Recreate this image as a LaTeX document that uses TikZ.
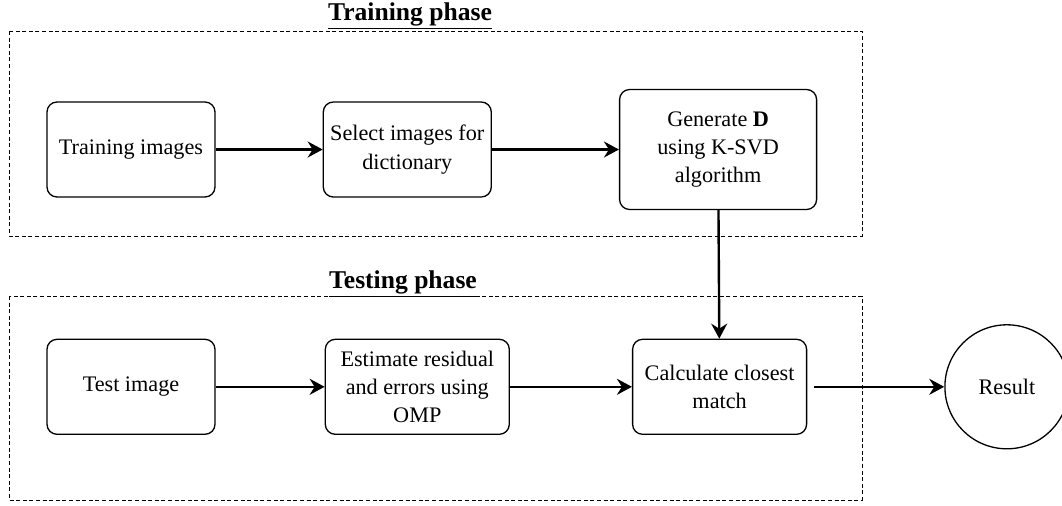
\documentclass[tikz,border=0pt]{standalone}
\usepackage{fontspec}
\setmainfont{Liberation Serif}
\usetikzlibrary{positioning,arrows.meta}

\begin{document}
\begin{tikzpicture}[
    x=0.5pt,y=-0.5pt,
    font=\fontsize{11.1}{14.2}\selectfont,
    node distance=50pt,
    blk/.style  ={draw,rounded corners=5pt,line width=0.65pt,align=center,
                  minimum width=84pt,minimum height=47.5pt,inner sep=2pt},
    res/.style  ={draw,circle,line width=0.65pt,minimum size=62pt,inner sep=1pt},
    phase/.style={draw,line width=0.5pt,dash pattern=on 2pt off 1.3pt},
    ttl/.style  ={font=\fontsize{12.8}{15}\bfseries\selectfont,inner sep=1pt},
    arr/.style  ={-{Stealth[length=7.5pt,width=8pt,inset=2.5pt]},line width=1.2pt},
    ]
    \useasboundingbox (0,0) rectangle (1062,505);

    % phase frames
    \draw[phase] (9,31) rectangle (862,236);
    \draw[phase] (9,296) rectangle (862,500);
    \node[ttl] (trainttl) at (410,16)  {\underline{Training phase}};
    \node[ttl] (testttl)  at (403,284) {\underline{Testing phase}};

    % training row
    \node[blk] (train) at (131,149.5) {Training images};
    \node[blk,right=53.5pt of train] (select) {Select images for\\dictionary};
    \node[blk,right=63.5pt of select,minimum width=98.5pt,minimum height=60pt] (gen)
      {Generate \textbf{D}\\using K-SVD\\algorithm};

    % testing row
    \node[blk,below=70.5pt of train] (test) {Test image};
    \node[blk,right=54.5pt of test,minimum width=92pt] (est)
      {Estimate residual\\and errors using\\OMP};
    \node[blk,right=61pt of est,minimum width=87pt] (calc) {Calculate closest\\match};
    \node[res,right=68.5pt of calc] (result) {Result};

    \draw[arr] (train) -- (select);
    \draw[arr] (select) -- (gen);
    \draw[arr] (gen) -- (calc);
    \draw[arr] (test) -- (est);
    \draw[arr] (est) -- (calc);
    \draw[arr,shorten <=3.5pt] (calc) -- (result);
  \end{tikzpicture}
\end{document}
